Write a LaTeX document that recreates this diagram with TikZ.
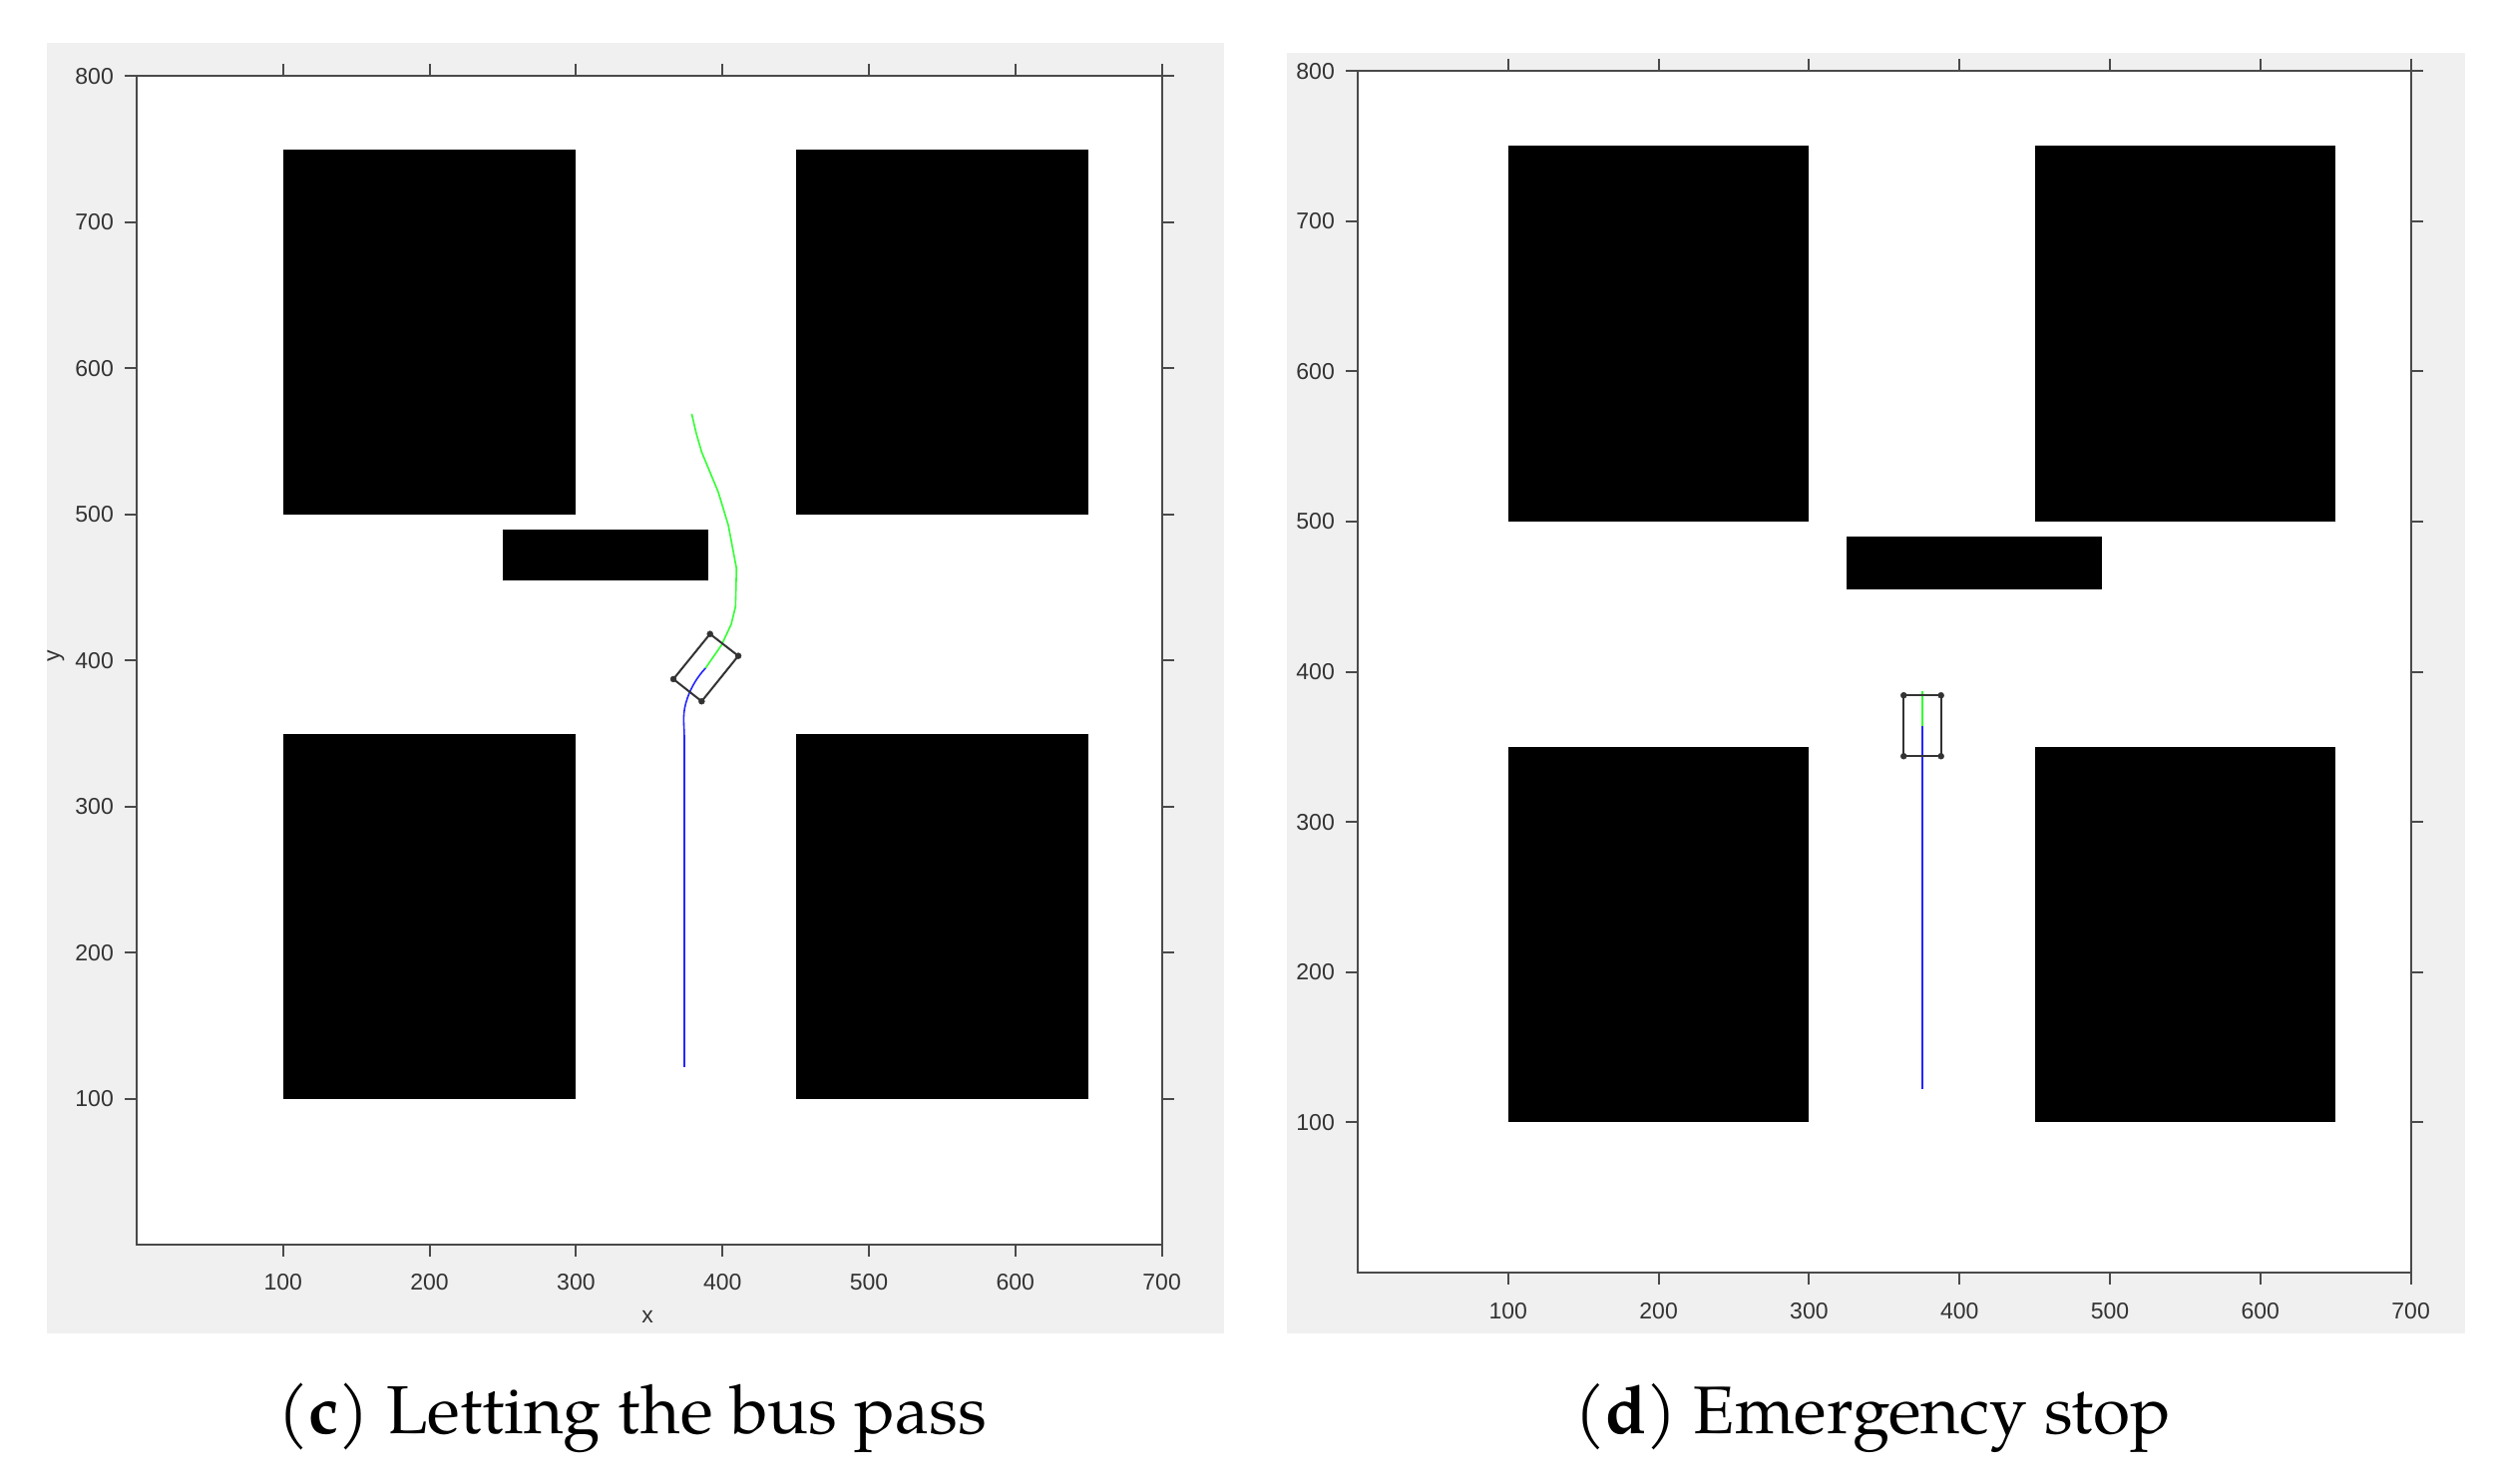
\documentclass[tikz,border=0pt]{standalone}
\usepackage{fontspec}
\newfontfamily\tickfont{Liberation Sans}
\newfontfamily\capfont{TeX Gyre Pagella}
\definecolor{figbg}{HTML}{F0F0F0}
\definecolor{axcol}{HTML}{4A4A4A}
\definecolor{labcol}{HTML}{333333}
\definecolor{carcol}{HTML}{333333}
\definecolor{pathgreen}{rgb}{0.2,1,0.2}
\definecolor{pathblue}{rgb}{0.15,0.15,1}
\begin{document}
\begin{tikzpicture}[x=1pt,y=1pt,
  axisline/.style={draw=axcol, line width=2pt},
  ticklab/.style={font=\tickfont\fontsize{23}{26}\selectfont, text=labcol, inner sep=0pt},
  obst/.style={fill=black, draw=none},
  carbox/.style={draw=carcol, line width=2pt, line join=round},
  cornerdot/.style={circle, fill=carcol, draw=carcol, inner sep=0pt, minimum size=6pt},
  bluepath/.style={draw=pathblue, line width=1.6pt},
  greenpath/.style={draw=pathgreen, line width=1.6pt},
  captext/.style={anchor=base west, inner sep=0pt}
]
\useasboundingbox (0,0) rectangle (2500,1488);
\fill[white] (0,0) rectangle (2500,1488);
\fill[figbg] (47,151) rectangle (1227,1445);
\fill[figbg] (1290,151) rectangle (2471,1435);

% ---------------- panel (c) ----------------
\begin{scope}[shift={(137,239.5)}, x=1.468pt, y=1.465pt]
  \fill[white] (0,0) rectangle (700,800);
  \fill[obst] (100,500) rectangle (300,750);
  \fill[obst] (450,500) rectangle (650,750);
  \fill[obst] (100,100) rectangle (300,350);
  \fill[obst] (450,100) rectangle (650,350);
  \fill[obst] (250,455) rectangle (390,490);
  \coordinate (cstart) at (374,122);
  \coordinate (cbend) at (374,345);
  \coordinate (ccar) at (388.5,395);
  \draw[bluepath] (cstart) -- (cbend) .. controls (374,356) and (372.5,362) .. (375,371) .. controls (377.5,380) and (382,388) .. (ccar);
  \draw[greenpath] (ccar) -- (399.4,410.8) -- (406,425) -- (408.9,437) -- (409.6,463.1) -- (404,492.7) -- (397.1,515.5) -- (385.8,542.8) -- (382,556) -- (379,569);
  \coordinate (ca) at (391.5,418.3);
  \coordinate (cb) at (410.8,403.3);
  \coordinate (cc) at (385.8,372.2);
  \coordinate (cd) at (366.5,387.4);
  \draw[carbox] (ca) -- (cb) -- (cc) -- (cd) -- cycle;
  \foreach \p in {ca,cb,cc,cd} \node[cornerdot] (dot\p) at (\p) {};
  \draw[axisline] (0,0) rectangle (700,800);
  \foreach \t in {100,200,...,700} {
    \draw[axisline] (\t,0) -- ++(0,-12pt);
    \draw[axisline] (\t,800) -- ++(0,12pt);
    \node[ticklab] (cx\t) at ([yshift=-37.5pt]\t,0) {\t};
  }
  \foreach \t in {100,200,...,800} {
    \draw[axisline] (0,\t) -- ++(-12pt,0);
    \draw[axisline] (700,\t) -- ++(12pt,0);
    \node[ticklab, anchor=east] (cy\t) at ([xshift=-23pt]0,\t) {\t};
  }
\end{scope}
\node[ticklab] (xlab) at (649,168) {x};
\node[ticklab, rotate=90] (ylab) at (56,830) {y};

% ---------------- panel (d) ----------------
\begin{scope}[shift={(1361,212)}, x=1.508pt, y=1.506pt]
  \fill[white] (0,0) rectangle (700,800);
  \fill[obst] (100,500) rectangle (300,750);
  \fill[obst] (450,500) rectangle (650,750);
  \fill[obst] (100,100) rectangle (300,350);
  \fill[obst] (450,100) rectangle (650,350);
  \fill[obst] (325,455) rectangle (495,490);
  \coordinate (dstart) at (375.3,122);
  \coordinate (dmid) at (375.3,364);
  \coordinate (dend) at (375.3,387.3);
  \draw[bluepath] (dstart) -- (dmid);
  \draw[greenpath] (dmid) -- (dend);
  \coordinate (da) at (362.9,384.3);
  \coordinate (db) at (387.7,384.3);
  \coordinate (dc) at (387.7,343.8);
  \coordinate (dd) at (362.9,343.8);
  \draw[carbox] (da) -- (db) -- (dc) -- (dd) -- cycle;
  \foreach \p in {da,db,dc,dd} \node[cornerdot] (dot\p) at (\p) {};
  \draw[axisline] (0,0) rectangle (700,800);
  \foreach \t in {100,200,...,700} {
    \draw[axisline] (\t,0) -- ++(0,-12pt);
    \draw[axisline] (\t,800) -- ++(0,12pt);
    \node[ticklab] (dx\t) at ([yshift=-39pt]\t,0) {\t};
  }
  \foreach \t in {100,200,...,800} {
    \draw[axisline] (0,\t) -- ++(-12pt,0);
    \draw[axisline] (700,\t) -- ++(12pt,0);
    \node[ticklab, anchor=east] (dy\t) at ([xshift=-23pt]0,\t) {\t};
  }
\end{scope}

% ---------------- captions ----------------
\node[captext, font=\capfont\fontsize{68}{72}\selectfont] (capc) at (278,50) {(\textbf{c}) Letting the bus pass};
\node[captext, font=\capfont\fontsize{67.5}{72}\selectfont] (capd) at (1578,50) {(\textbf{d}) Emergency stop};
\end{tikzpicture}
\end{document}
